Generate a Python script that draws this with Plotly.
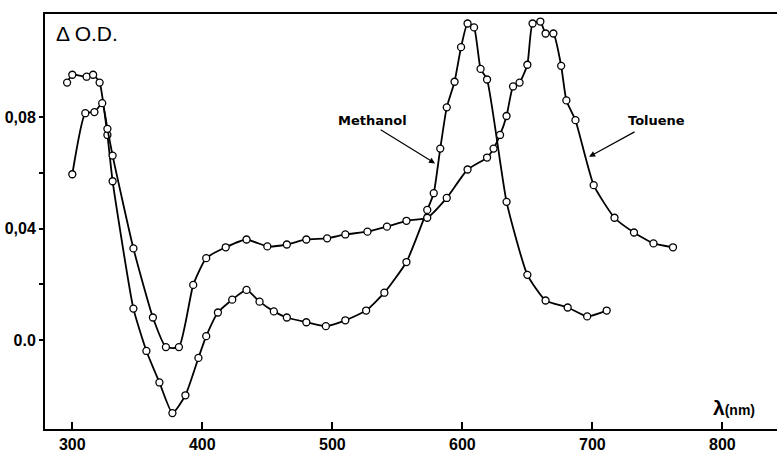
import plotly.graph_objects as go

# Methanol curve (nm, delta O.D.)
methanol_nm = [296, 300, 311, 316, 321, 327, 331, 347, 357, 367, 377, 387, 397, 403, 412,
               423, 434, 444, 455, 465, 480, 495, 510, 526, 540, 557, 573, 578, 583, 588,
               594, 599, 604, 609, 614, 619, 634, 650, 664, 681, 696, 711]
methanol_od = [0.0924, 0.0952, 0.0945, 0.0952, 0.0924, 0.0736, 0.057, 0.0113, -0.0039, -0.0152,
               -0.0262, -0.0198, -0.0064, 0.0014, 0.0099, 0.0145, 0.018, 0.0138, 0.0103, 0.0081,
               0.0064, 0.005, 0.0071, 0.0106, 0.017, 0.028, 0.0467, 0.0527, 0.0687, 0.0835,
               0.0927, 0.1051, 0.1136, 0.1122, 0.0973, 0.0935, 0.0496, 0.0234, 0.0142, 0.0117,
               0.0085, 0.0106]

# Toluene curve
toluene_nm = [300, 310, 317, 323, 327, 331, 347, 362, 372, 382, 393, 403, 418, 434, 450,
              465, 480, 496, 510, 527, 542, 557, 573, 588, 604, 619, 624, 629, 634, 639,
              644, 650, 654, 660, 664, 670, 676, 680, 687, 701, 717, 732, 747, 762]
toluene_od = [0.0595, 0.0814, 0.0818, 0.085, 0.0758, 0.0662, 0.0329, 0.0081, -0.0025, -0.0025,
              0.0198, 0.0294, 0.0333, 0.0361, 0.0336, 0.0343, 0.0361, 0.0365, 0.0379, 0.0389,
              0.0407, 0.0428, 0.0439, 0.051, 0.0612, 0.0655, 0.0687, 0.0736, 0.0804, 0.091,
              0.0924, 0.0988, 0.1136, 0.1143, 0.11, 0.11, 0.0984, 0.086, 0.0789, 0.0556,
              0.0439, 0.0386, 0.0347, 0.0333]

x_ticks = [300, 400, 500, 600, 700, 800]
x_tick_text = ["300", "400", "500", "600", "700", "800"]
y_ticks = [0.0, 0.02, 0.04, 0.06, 0.08]
y_tick_text = ["0.0", "", "0,04", "", "0,08"]

fig = go.Figure()
for xs, ys, name in [(methanol_nm, methanol_od, "Methanol"), (toluene_nm, toluene_od, "Toluene")]:
    fig.add_trace(go.Scatter(
        x=xs, y=ys, mode="lines+markers", name=name,
        line=dict(color="black", width=1.8, shape="spline", smoothing=0.5),
        marker=dict(symbol="circle", size=7, color="white",
                    line=dict(color="black", width=1.3)),
        showlegend=False, cliponaxis=False,
    ))

bold = dict(family="Liberation Sans, Arial, sans-serif", size=16, color="black", weight="bold")

fig.update_xaxes(
    range=[279, 842], tickvals=x_ticks, ticktext=x_tick_text,
    ticks="inside", ticklen=7, tickwidth=1.5, tickcolor="black",
    showline=True, linecolor="black", linewidth=2, mirror=True,
    showgrid=False, zeroline=False, tickfont=bold,
)
fig.update_yaxes(
    range=[-0.0319, 0.117], tickvals=y_ticks, ticktext=y_tick_text,
    ticks="outside", ticklen=4, tickwidth=1.5, tickcolor="black",
    showline=True, linecolor="black", linewidth=2, mirror=False,
    showgrid=False, zeroline=False, tickfont=bold,
)

lab = dict(family="DejaVu Sans, sans-serif", size=13, color="black", weight="bold")
fig.add_annotation(x=531, y=0.0789, text="Methanol", showarrow=False, font=lab)
fig.add_annotation(x=749, y=0.0789, text="Toluene", showarrow=False, font=lab)
fig.add_annotation(x=579, y=0.0634, ax=536, ay=0.0758, xref="x", yref="y", axref="x", ayref="y",
                   text="", showarrow=True, arrowhead=2, arrowsize=1, arrowwidth=1.2, arrowcolor="black")
fig.add_annotation(x=697.5, y=0.0658, ax=733.6, ay=0.075, xref="x", yref="y", axref="x", ayref="y",
                   text="", showarrow=True, arrowhead=2, arrowsize=1, arrowwidth=1.2, arrowcolor="black")
fig.add_annotation(x=0.012, y=0.985, xref="paper", yref="paper", xanchor="left", yanchor="top",
                   text="Δ O.D.", showarrow=False,
                   font=dict(family="Liberation Sans, Arial, sans-serif", size=21, color="black"))
fig.add_annotation(x=0.91, y=0.02, xref="paper", yref="paper", xanchor="left", yanchor="bottom",
                   text="<span style='font-size:21px'>λ</span>(nm)", showarrow=False,
                   font=dict(family="Liberation Sans, Arial, sans-serif", size=14, color="black", weight="bold"))

fig.update_layout(
    width=777, height=453,
    margin=dict(l=45, r=0, t=14, b=19),
    paper_bgcolor="white", plot_bgcolor="white",
)
fig.write_html("out.html")
